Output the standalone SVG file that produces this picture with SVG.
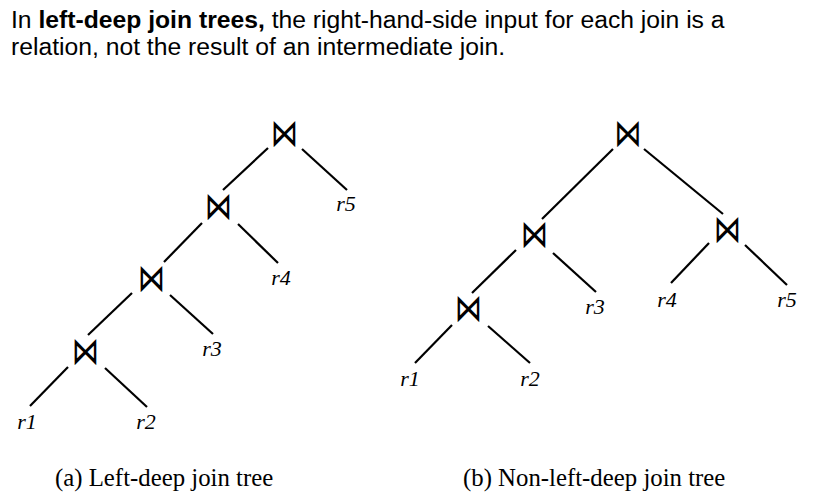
<svg xmlns="http://www.w3.org/2000/svg" width="826" height="500" viewBox="0 0 826 500">
<style>
.hdr{font-family:"Liberation Sans",Arial,sans-serif;font-size:24.7px;fill:#000}
.b{font-weight:bold}
.join{font-family:"DejaVu Sans",sans-serif;font-size:38px;fill:#000;text-anchor:middle}
.rel{font-family:"Liberation Serif","Times New Roman",serif;font-style:italic;font-size:22px;fill:#000;text-anchor:middle}
.cap{font-family:"Liberation Serif","Times New Roman",serif;font-size:24.8px;fill:#000}
.edges line{stroke:#000;stroke-width:2.2;stroke-linecap:butt}
</style>
<rect width="826" height="500" fill="#fff"/>
<g id="header">
<text class="hdr" x="11" y="28">In <tspan class="b">left-deep join trees,</tspan> the right-hand-side input for each join is a</text>
<text class="hdr" x="11" y="55">relation, not the result of an intermediate join.</text>
</g>
<g id="connectors" class="edges">
<line x1="268" y1="148" x2="223" y2="190"/>
<line x1="302" y1="149" x2="347" y2="190"/>
<line x1="202" y1="223" x2="164" y2="262"/>
<line x1="238" y1="224" x2="278" y2="263"/>
<line x1="132" y1="293" x2="88" y2="335"/>
<line x1="170" y1="295" x2="213" y2="334"/>
<line x1="68" y1="367" x2="30" y2="406"/>
<line x1="105" y1="368" x2="147" y2="407"/>
<line x1="613" y1="149" x2="542" y2="219"/>
<line x1="644" y1="149" x2="723" y2="214"/>
<line x1="516" y1="250" x2="472" y2="293"/>
<line x1="553" y1="253" x2="596" y2="292"/>
<line x1="709" y1="243" x2="671" y2="283"/>
<line x1="745" y1="245" x2="787" y2="285"/>
<line x1="452" y1="325" x2="415" y2="363"/>
<line x1="488" y1="326" x2="530" y2="363"/>
</g>
<g id="left-tree">
<g id="a-j1"><text class="join" transform="translate(284.5,145.5) scale(0.72,1)">⋈</text></g>
<g id="a-j2"><text class="join" transform="translate(218.5,219) scale(0.72,1)">⋈</text></g>
<g id="a-j3"><text class="join" transform="translate(151.5,290.5) scale(0.72,1)">⋈</text></g>
<g id="a-j4"><text class="join" transform="translate(85.5,363.5) scale(0.72,1)">⋈</text></g>
<g id="a-r5"><text class="rel" x="346" y="211">r5</text></g>
<g id="a-r4"><text class="rel" x="281" y="285">r4</text></g>
<g id="a-r3"><text class="rel" x="212" y="356">r3</text></g>
<g id="a-r1"><text class="rel" x="27" y="429">r1</text></g>
<g id="a-r2"><text class="rel" x="146" y="429">r2</text></g>
</g>
<g id="right-tree">
<g id="b-j1"><text class="join" transform="translate(628,145.5) scale(0.72,1)">⋈</text></g>
<g id="b-j2"><text class="join" transform="translate(534.5,247) scale(0.72,1)">⋈</text></g>
<g id="b-j3"><text class="join" transform="translate(727.5,242) scale(0.72,1)">⋈</text></g>
<g id="b-j4"><text class="join" transform="translate(468.5,320.5) scale(0.72,1)">⋈</text></g>
<g id="b-r3"><text class="rel" x="595" y="314">r3</text></g>
<g id="b-r4"><text class="rel" x="667" y="307">r4</text></g>
<g id="b-r5"><text class="rel" x="787" y="307">r5</text></g>
<g id="b-r1"><text class="rel" x="410" y="386">r1</text></g>
<g id="b-r2"><text class="rel" x="530" y="386">r2</text></g>
</g>
<g id="captions">
<text class="cap" x="55" y="486">(a) Left-deep join tree</text>
<text class="cap" x="463" y="486">(b) Non-left-deep join tree</text>
</g>
</svg>
